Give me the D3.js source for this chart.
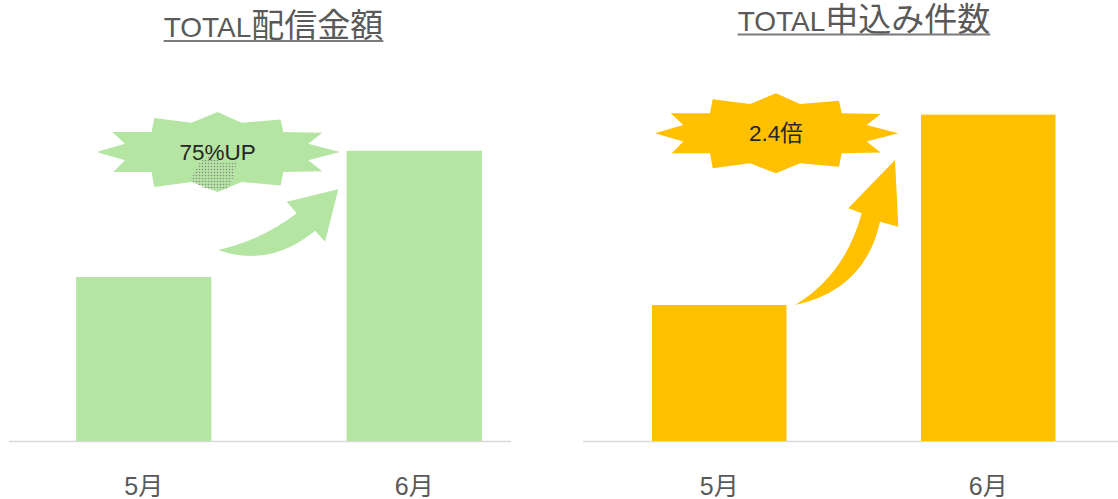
<!DOCTYPE html>
<html><head><meta charset="utf-8">
<script src="https://cdn.jsdelivr.net/npm/d3@7"></script>
<style>
html,body{margin:0;padding:0;background:#fff;}
svg{display:block;}
</style></head>
<body>
<svg id="c" width="1118" height="499"></svg>
<script>
// ---- data ----
const months = ["5月", "6月"];
const amountValues = [100, 177];   // TOTAL配信金額 (relative)
const countValues = [100, 240];    // TOTAL申込み件数 (relative)
const titles = ["TOTAL配信金額", "TOTAL申込み件数"];
const badgeLabels = ["75%UP", "2.4倍"];

// ---- layout ----
const svg = d3.select("#c");
const baseY = 441;
const panels = [
  { title: titles[0], values: amountValues, badge: badgeLabels[0], color: "#b4e5a2",
    xr: [9, 549], pOuter: 0.248, axis: [9, 511], yDomain: 200, yPx: 328,
    titleX: 273.5, titleY: 37, ulY: 41,
    burstDx: 141.5, burstCy: 152, stipple: true,
    arrow: [[-128.6,99.3],[-76.6,117.3],[-31.6,80],[-21.6,91],[-8.3,38.6],[-59.9,51],[-49.9,62.6],[-84.6,89.3]] },
  { title: titles[1], values: countValues, badge: badgeLabels[1], color: "#ffc000",
    xr: [583, 1124.5], pOuter: 0.2565, axis: [583, 1118], yDomain: 250, yPx: 340,
    titleX: 864, titleY: 31, ulY: 34.5,
    burstDx: 124, burstCy: 133.3, stipple: false,
    arrow: [[-126,190.4],[-56,175.4],[-41,107.1],[-22.7,112.1],[-26,45.4],[-72.7,93.7],[-59.3,98.7],[-76,160.4]] }
];

// starburst shape (half-width ~122, half-height 40)
const burstPts = [
  [0,-40],[24,-29.3],[63,-32.6],[65.7,-20],[104.7,-19.3],[90.7,-8.3],[122.3,0],[90.7,8.3],
  [104.7,19.3],[65.7,20],[63,33.4],[24,30],[0,40],[-26,30],[-63.3,35],[-66,20],
  [-104.3,20],[-92.7,8.3],[-121,0],[-92.7,-8.3],[-105.3,-20],[-66,-20],[-63.3,-34],[-26,-29.3]
];
const stipplePts = [[-17.5,9.7],[-7.5,3],[5.5,11],[19.2,9.7],[15.5,26],[9.2,38],[-10.8,38],[-27.5,28]];

const defs = svg.append("defs");
const pat = defs.append("pattern").attr("id","dots").attr("width",3).attr("height",3)
  .attr("patternUnits","userSpaceOnUse");
pat.append("circle").attr("cx",1.5).attr("cy",1.5).attr("r",0.8).attr("fill","#8a8a8a");

const fontLatin = "'Liberation Sans', Arial, 'Noto Sans CJK JP', sans-serif";

panels.forEach(p => {
  const g = svg.append("g");
  const x = d3.scaleBand().domain(months).range(p.xr).paddingInner(0.5).paddingOuter(p.pOuter);
  const y = d3.scaleLinear().domain([0, p.yDomain]).range([baseY, baseY - p.yPx]);

  // axis line
  g.append("line").attr("x1", p.axis[0]).attr("x2", p.axis[1])
    .attr("y1", baseY + 0.5).attr("y2", baseY + 0.5)
    .attr("stroke", "#d9d9d9").attr("stroke-width", 1.5);

  // bars
  g.selectAll("rect.bar").data(p.values).join("rect").attr("class","bar")
    .attr("x", (d,i) => x(months[i])).attr("width", x.bandwidth())
    .attr("y", d => y(d)).attr("height", d => baseY - y(d))
    .attr("fill", p.color);

  // category labels
  g.selectAll("text.cat").data(months).join("text").attr("class","cat")
    .attr("x", d => x(d) + x.bandwidth()/2).attr("y", 495)
    .attr("text-anchor","middle").attr("fill","#595959")
    .style("font-family", fontLatin).style("font-size","25px")
    .text(d => d);

  // arrow anchored at top-left of second bar
  const ax = x(months[1]), ay = y(p.values[1]);
  const a = p.arrow.map(([dx,dy]) => [ax+dx, ay+dy]);
  const path = `M${a[0]}Q${a[1]} ${a[2]}L${a[3]}L${a[4]}L${a[5]}L${a[6]}Q${a[7]} ${a[0]}Z`;
  g.append("path").attr("d", path).attr("fill", p.color);

  // starburst
  const cx = x(months[0]) + p.burstDx, cy = p.burstCy;
  g.append("polygon").attr("points", burstPts.map(([u,v]) => [cx+u, cy+v].join(",")).join(" "))
    .attr("fill", p.color);
  if (p.stipple) {
    g.append("polygon").attr("points", stipplePts.map(([u,v]) => [cx+u, cy+v].join(",")).join(" "))
      .attr("fill", "url(#dots)");
  }
  g.append("text").attr("x", cx).attr("y", cy + 8)
    .attr("text-anchor","middle").attr("fill","#262626")
    .style("font-family", fontLatin).style("font-size","22.5px")
    .text(p.badge);

  // title
  const t = g.append("text").attr("x", p.titleX).attr("y", p.titleY)
    .attr("text-anchor","middle").attr("fill","#595959")
    .style("font-family", fontLatin);
  t.append("tspan").style("font-size","28px").text(p.title.slice(0,5));
  t.append("tspan").style("font-size","33px").style("font-family","'Noto Sans CJK JP', sans-serif").text(p.title.slice(5));
  const w = t.node().getComputedTextLength();
  g.append("line").attr("x1", p.titleX - w/2).attr("x2", p.titleX + w/2)
    .attr("y1", p.ulY).attr("y2", p.ulY).attr("stroke","#7a7a7a").attr("stroke-width",2);
});
</script>
</body></html>
